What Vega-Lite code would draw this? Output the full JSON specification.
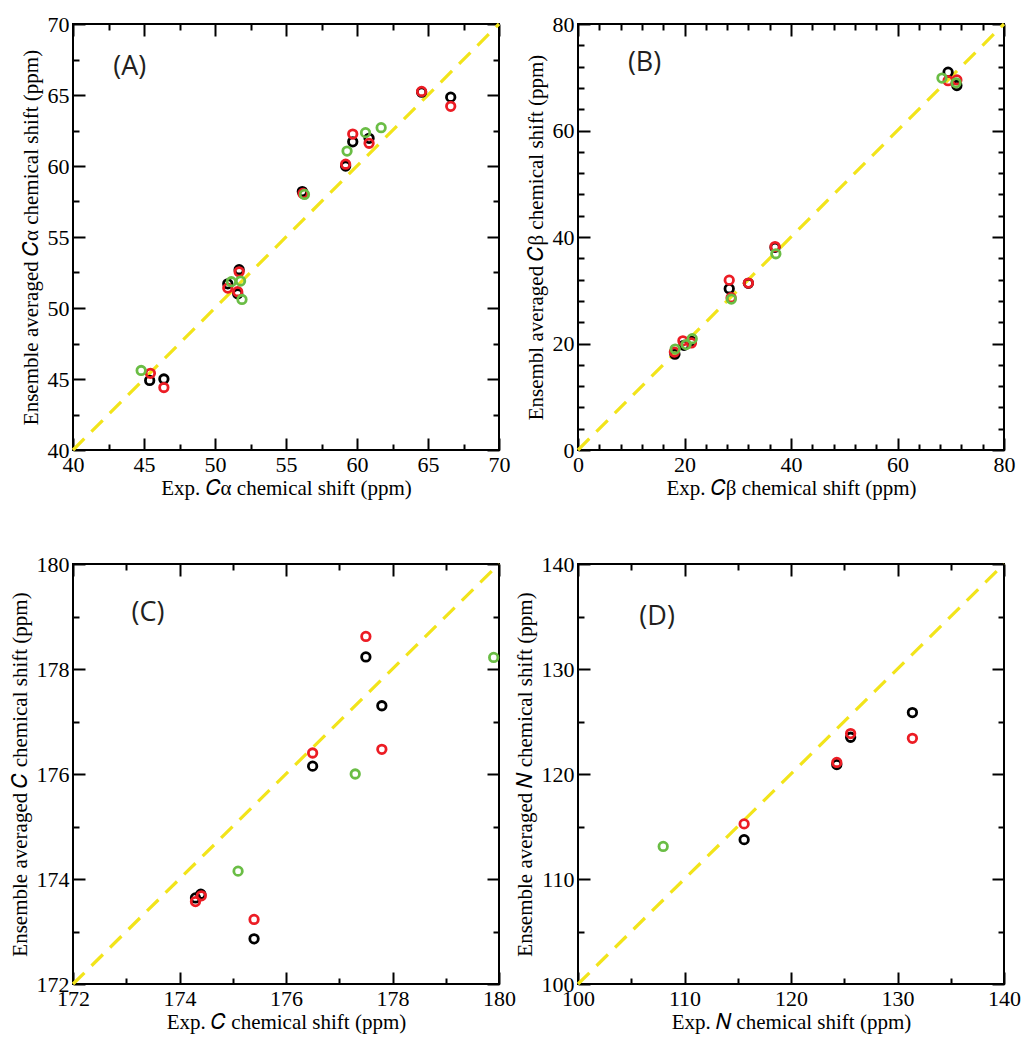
{
  "$schema": "https://vega.github.io/schema/vega-lite/v6.json",
  "background": "white",
  "padding": {"left": 8, "top": 12, "right": 5, "bottom": 5},
  "config": {
    "view": {"stroke": "black", "strokeWidth": 2},
    "axis": {
      "grid": false, "domain": false, "ticks": true, "zindex": 2,
      "labelFont": "Liberation Serif", "labelFontSize": 22, "labelColor": "black",
      "titleFont": "Liberation Serif", "titleFontSize": 21, "titleFontWeight": "normal", "titleColor": "black",
      "tickColor": "#000000", "tickWidth": 2, "tickOpacity": 1,
      "labelFlush": false, "labelOverlap": false, "labelBound": false
    },
    "text": {"font": "Open Sans", "fontSize": 27, "color": "#231f20"},
    "point": {"shape": "circle", "filled": false, "strokeWidth": 2.8, "size": 72, "opacity": 1},
    "rule": {"color": "#f2e41a", "strokeWidth": 3.2, "strokeDash": [16, 10]}
  },
  "columns": 2,
  "spacing": {"column": 79, "row": 114},
  "bounds": "flush",
  "concat": [
    {
      "width": 426, "height": 426,
      "layer": [
        {
          "data": {"values": [{"x1": 40, "y1": 40, "x2": 70, "y2": 70}]},
          "mark": "rule",
          "encoding": {
            "x": {"field": "x1", "type": "quantitative", "scale": {"domain": [40, 70], "nice": false, "zero": false},
              "axis": {"orient": "bottom", "ticks": true, "offset": -12, "tickSize": 12, "values": [40, 45, 50, 55, 60, 65, 70], "labelPadding": 4,
                "title": "Exp. 𝐶α chemical shift (ppm)", "titlePadding": 2}},
            "y": {"field": "y1", "type": "quantitative", "scale": {"domain": [40, 70], "nice": false, "zero": false},
              "axis": {"orient": "left", "ticks": true, "offset": -12, "tickSize": 12, "values": [40, 45, 50, 55, 60, 65, 70], "labelPadding": 4,
                "title": "Ensemble averaged 𝐶α chemical shift (ppm)", "titlePadding": 6}},
            "x2": {"field": "x2"}, "y2": {"field": "y2"}
          }
        },
        {
          "data": {"values": [
            {"exp": 45.4, "avg": 44.9, "series": "S1"}, {"exp": 46.4, "avg": 45.0, "series": "S1"},
            {"exp": 50.9, "avg": 51.7, "series": "S1"}, {"exp": 51.7, "avg": 52.7, "series": "S1"},
            {"exp": 51.6, "avg": 51.0, "series": "S1"}, {"exp": 56.15, "avg": 58.2, "series": "S1"},
            {"exp": 59.2, "avg": 60.0, "series": "S1"}, {"exp": 59.7, "avg": 61.7, "series": "S1"},
            {"exp": 60.85, "avg": 61.95, "series": "S1"}, {"exp": 64.55, "avg": 65.2, "series": "S1"},
            {"exp": 66.6, "avg": 64.85, "series": "S1"},
            {"exp": 45.45, "avg": 45.4, "series": "S2"}, {"exp": 46.4, "avg": 44.4, "series": "S2"},
            {"exp": 50.9, "avg": 51.4, "series": "S2"}, {"exp": 51.7, "avg": 52.55, "series": "S2"},
            {"exp": 51.6, "avg": 51.15, "series": "S2"}, {"exp": 56.2, "avg": 58.07, "series": "S2"},
            {"exp": 59.2, "avg": 60.13, "series": "S2"}, {"exp": 59.7, "avg": 62.25, "series": "S2"},
            {"exp": 60.85, "avg": 61.6, "series": "S2"}, {"exp": 64.55, "avg": 65.25, "series": "S2"},
            {"exp": 66.6, "avg": 64.2, "series": "S2"},
            {"exp": 44.8, "avg": 45.6, "series": "S3"}, {"exp": 51.15, "avg": 51.85, "series": "S3"},
            {"exp": 51.8, "avg": 51.9, "series": "S3"}, {"exp": 51.9, "avg": 50.6, "series": "S3"},
            {"exp": 56.3, "avg": 58.0, "series": "S3"}, {"exp": 59.3, "avg": 61.05, "series": "S3"},
            {"exp": 60.6, "avg": 62.35, "series": "S3"}, {"exp": 61.7, "avg": 62.7, "series": "S3"}
          ]},
          "mark": "point",
          "encoding": {
            "x": {"field": "exp", "type": "quantitative",
              "axis": {"orient": "bottom", "ticks": true, "offset": -6, "tickSize": 6, "values": [42.5, 47.5, 52.5, 57.5, 62.5, 67.5], "labels": false, "title": null}},
            "y": {"field": "avg", "type": "quantitative",
              "axis": {"orient": "left", "ticks": true, "offset": -6, "tickSize": 6, "values": [42.5, 47.5, 52.5, 57.5, 62.5, 67.5], "labels": false, "title": null}},
            "color": {"field": "series", "type": "nominal", "scale": {"domain": ["S1", "S2", "S3"], "range": ["#000000", "#ec1c24", "#6abd45"]}, "legend": null}
          }
        },
        {
          "data": {"values": [{"label": "(A)", "x": 44.0, "y": 66.95}]},
          "mark": "text",
          "encoding": {
            "x": {"field": "x", "type": "quantitative",
              "axis": {"orient": "top", "ticks": true, "offset": -12, "tickSize": 12, "values": [40, 45, 50, 55, 60, 65, 70], "labels": false, "title": null}},
            "y": {"field": "y", "type": "quantitative",
              "axis": {"orient": "right", "ticks": true, "offset": -12, "tickSize": 12, "values": [40, 45, 50, 55, 60, 65, 70], "labels": false, "title": null}},
            "text": {"field": "label"}
          }
        },
        {
          "data": {"values": [{"x": 40, "y": 40}]},
          "mark": {"type": "point", "opacity": 0},
          "encoding": {
            "x": {"field": "x", "type": "quantitative",
              "axis": {"orient": "top", "ticks": true, "offset": -6, "tickSize": 6, "values": [42.5, 47.5, 52.5, 57.5, 62.5, 67.5], "labels": false, "title": null}},
            "y": {"field": "y", "type": "quantitative",
              "axis": {"orient": "right", "ticks": true, "offset": -6, "tickSize": 6, "values": [42.5, 47.5, 52.5, 57.5, 62.5, 67.5], "labels": false, "title": null}}
          }
        }
      ],
      "resolve": {"axis": {"x": "independent", "y": "independent"}}
    },
    {
      "width": 426, "height": 426,
      "layer": [
        {
          "data": {"values": [{"x1": 0, "y1": 0, "x2": 80, "y2": 80}]},
          "mark": "rule",
          "encoding": {
            "x": {"field": "x1", "type": "quantitative", "scale": {"domain": [0, 80], "nice": false},
              "axis": {"orient": "bottom", "ticks": true, "offset": -12, "tickSize": 12, "values": [0, 20, 40, 60, 80], "labelPadding": 4,
                "title": "Exp. 𝐶β chemical shift (ppm)", "titlePadding": 2}},
            "y": {"field": "y1", "type": "quantitative", "scale": {"domain": [0, 80], "nice": false},
              "axis": {"orient": "left", "ticks": true, "offset": -12, "tickSize": 12, "values": [0, 20, 40, 60, 80], "labelPadding": 4,
                "title": "Ensembl averaged 𝐶β chemical shift (ppm)", "titlePadding": 6}},
            "x2": {"field": "x2"}, "y2": {"field": "y2"}
          }
        },
        {
          "data": {"values": [
            {"exp": 18.2, "avg": 18.0, "series": "S1"}, {"exp": 19.9, "avg": 19.65, "series": "S1"},
            {"exp": 21.3, "avg": 20.4, "series": "S1"}, {"exp": 28.4, "avg": 30.3, "series": "S1"},
            {"exp": 32.0, "avg": 31.3, "series": "S1"}, {"exp": 37.0, "avg": 38.05, "series": "S1"},
            {"exp": 69.5, "avg": 70.95, "series": "S1"}, {"exp": 71.15, "avg": 68.45, "series": "S1"},
            {"exp": 18.1, "avg": 18.4, "series": "S2"}, {"exp": 19.7, "avg": 20.5, "series": "S2"},
            {"exp": 21.3, "avg": 20.1, "series": "S2"}, {"exp": 28.4, "avg": 31.9, "series": "S2"},
            {"exp": 28.75, "avg": 28.6, "series": "S2"}, {"exp": 32.0, "avg": 31.35, "series": "S2"},
            {"exp": 37.0, "avg": 38.2, "series": "S2"}, {"exp": 69.5, "avg": 69.35, "series": "S2"},
            {"exp": 71.15, "avg": 69.5, "series": "S2"},
            {"exp": 18.25, "avg": 18.95, "series": "S3"}, {"exp": 20.3, "avg": 19.8, "series": "S3"},
            {"exp": 21.45, "avg": 20.9, "series": "S3"}, {"exp": 28.8, "avg": 28.35, "series": "S3"},
            {"exp": 37.15, "avg": 36.85, "series": "S3"}, {"exp": 68.35, "avg": 69.85, "series": "S3"},
            {"exp": 71.0, "avg": 68.95, "series": "S3"}
          ]},
          "mark": "point",
          "encoding": {
            "x": {"field": "exp", "type": "quantitative",
              "axis": {"orient": "bottom", "ticks": true, "offset": -6, "tickSize": 6, "values": [4, 8, 12, 16, 24, 28, 32, 36, 44, 48, 52, 56, 64, 68, 72, 76], "labels": false, "title": null}},
            "y": {"field": "avg", "type": "quantitative",
              "axis": {"orient": "left", "ticks": true, "offset": -6, "tickSize": 6, "values": [4, 8, 12, 16, 24, 28, 32, 36, 44, 48, 52, 56, 64, 68, 72, 76], "labels": false, "title": null}},
            "color": {"field": "series", "type": "nominal", "scale": {"domain": ["S1", "S2", "S3"], "range": ["#000000", "#ec1c24", "#6abd45"]}, "legend": null}
          }
        },
        {
          "data": {"values": [{"label": "(B)", "x": 12.5, "y": 72.65}]},
          "mark": "text",
          "encoding": {
            "x": {"field": "x", "type": "quantitative",
              "axis": {"orient": "top", "ticks": true, "offset": -12, "tickSize": 12, "values": [0, 20, 40, 60, 80], "labels": false, "title": null}},
            "y": {"field": "y", "type": "quantitative",
              "axis": {"orient": "right", "ticks": true, "offset": -12, "tickSize": 12, "values": [0, 20, 40, 60, 80], "labels": false, "title": null}},
            "text": {"field": "label"}
          }
        },
        {
          "data": {"values": [{"x": 0, "y": 0}]},
          "mark": {"type": "point", "opacity": 0},
          "encoding": {
            "x": {"field": "x", "type": "quantitative",
              "axis": {"orient": "top", "ticks": true, "offset": -6, "tickSize": 6, "values": [4, 8, 12, 16, 24, 28, 32, 36, 44, 48, 52, 56, 64, 68, 72, 76], "labels": false, "title": null}},
            "y": {"field": "y", "type": "quantitative",
              "axis": {"orient": "right", "ticks": true, "offset": -6, "tickSize": 6, "values": [4, 8, 12, 16, 24, 28, 32, 36, 44, 48, 52, 56, 64, 68, 72, 76], "labels": false, "title": null}}
          }
        }
      ],
      "resolve": {"axis": {"x": "independent", "y": "independent"}}
    },
    {
      "width": 426, "height": 420,
      "layer": [
        {
          "data": {"values": [{"x1": 172, "y1": 172, "x2": 180, "y2": 180}]},
          "mark": "rule",
          "encoding": {
            "x": {"field": "x1", "type": "quantitative", "scale": {"domain": [172, 180], "nice": false, "zero": false},
              "axis": {"orient": "bottom", "ticks": true, "offset": -12, "tickSize": 12, "values": [172, 174, 176, 178, 180], "labelPadding": 4,
                "title": "Exp. 𝐶 chemical shift (ppm)", "titlePadding": 2}},
            "y": {"field": "y1", "type": "quantitative", "scale": {"domain": [172, 180], "nice": false, "zero": false},
              "axis": {"orient": "left", "ticks": true, "offset": -12, "tickSize": 12, "values": [172, 174, 176, 178, 180], "labelPadding": 4,
                "title": "Ensemble averaged 𝐶 chemical shift (ppm)", "titlePadding": 6}},
            "x2": {"field": "x2"}, "y2": {"field": "y2"}
          }
        },
        {
          "data": {"values": [
            {"exp": 174.3, "avg": 173.64, "series": "S1"}, {"exp": 174.4, "avg": 173.71, "series": "S1"},
            {"exp": 175.4, "avg": 172.86, "series": "S1"}, {"exp": 176.5, "avg": 176.15, "series": "S1"},
            {"exp": 177.5, "avg": 178.23, "series": "S1"}, {"exp": 177.8, "avg": 177.3, "series": "S1"},
            {"exp": 174.3, "avg": 173.57, "series": "S2"}, {"exp": 174.41, "avg": 173.68, "series": "S2"},
            {"exp": 175.4, "avg": 173.23, "series": "S2"}, {"exp": 176.5, "avg": 176.4, "series": "S2"},
            {"exp": 177.5, "avg": 178.62, "series": "S2"}, {"exp": 177.8, "avg": 176.47, "series": "S2"},
            {"exp": 175.1, "avg": 174.15, "series": "S3"}, {"exp": 177.3, "avg": 176.0, "series": "S3"},
            {"exp": 179.9, "avg": 178.22, "series": "S3"}
          ]},
          "mark": "point",
          "encoding": {
            "x": {"field": "exp", "type": "quantitative",
              "axis": {"orient": "bottom", "ticks": true, "offset": -6, "tickSize": 6, "values": [173, 175, 177, 179], "labels": false, "title": null}},
            "y": {"field": "avg", "type": "quantitative",
              "axis": {"orient": "left", "ticks": true, "offset": -6, "tickSize": 6, "values": [173, 175, 177, 179], "labels": false, "title": null}},
            "color": {"field": "series", "type": "nominal", "scale": {"domain": ["S1", "S2", "S3"], "range": ["#000000", "#ec1c24", "#6abd45"]}, "legend": null}
          }
        },
        {
          "data": {"values": [{"label": "(C)", "x": 173.41, "y": 179.07}]},
          "mark": "text",
          "encoding": {
            "x": {"field": "x", "type": "quantitative",
              "axis": {"orient": "top", "ticks": true, "offset": -12, "tickSize": 12, "values": [172, 174, 176, 178, 180], "labels": false, "title": null}},
            "y": {"field": "y", "type": "quantitative",
              "axis": {"orient": "right", "ticks": true, "offset": -12, "tickSize": 12, "values": [172, 174, 176, 178, 180], "labels": false, "title": null}},
            "text": {"field": "label"}
          }
        },
        {
          "data": {"values": [{"x": 172, "y": 172}]},
          "mark": {"type": "point", "opacity": 0},
          "encoding": {
            "x": {"field": "x", "type": "quantitative",
              "axis": {"orient": "top", "ticks": true, "offset": -6, "tickSize": 6, "values": [173, 175, 177, 179], "labels": false, "title": null}},
            "y": {"field": "y", "type": "quantitative",
              "axis": {"orient": "right", "ticks": true, "offset": -6, "tickSize": 6, "values": [173, 175, 177, 179], "labels": false, "title": null}}
          }
        }
      ],
      "resolve": {"axis": {"x": "independent", "y": "independent"}}
    },
    {
      "width": 426, "height": 420,
      "layer": [
        {
          "data": {"values": [{"x1": 100, "y1": 100, "x2": 140, "y2": 140}]},
          "mark": "rule",
          "encoding": {
            "x": {"field": "x1", "type": "quantitative", "scale": {"domain": [100, 140], "nice": false, "zero": false},
              "axis": {"orient": "bottom", "ticks": true, "offset": -12, "tickSize": 12, "values": [100, 110, 120, 130, 140], "labelPadding": 4,
                "title": "Exp. 𝑁 chemical shift (ppm)", "titlePadding": 2}},
            "y": {"field": "y1", "type": "quantitative", "scale": {"domain": [100, 140], "nice": false, "zero": false},
              "axis": {"orient": "left", "ticks": true, "offset": -12, "tickSize": 12, "values": [100, 110, 120, 130, 140], "labelPadding": 4,
                "title": "Ensemble averaged 𝑁 chemical shift (ppm)", "titlePadding": 6}},
            "x2": {"field": "x2"}, "y2": {"field": "y2"}
          }
        },
        {
          "data": {"values": [
            {"exp": 115.6, "avg": 113.75, "series": "S1"}, {"exp": 124.3, "avg": 120.9, "series": "S1"},
            {"exp": 125.6, "avg": 123.5, "series": "S1"}, {"exp": 131.4, "avg": 125.85, "series": "S1"},
            {"exp": 115.6, "avg": 115.25, "series": "S2"}, {"exp": 124.3, "avg": 121.1, "series": "S2"},
            {"exp": 125.6, "avg": 123.85, "series": "S2"}, {"exp": 131.4, "avg": 123.4, "series": "S2"},
            {"exp": 108.0, "avg": 113.1, "series": "S3"}
          ]},
          "mark": "point",
          "encoding": {
            "x": {"field": "exp", "type": "quantitative",
              "axis": {"orient": "bottom", "ticks": true, "offset": -6, "tickSize": 6, "values": [105, 115, 125, 135], "labels": false, "title": null}},
            "y": {"field": "avg", "type": "quantitative",
              "axis": {"orient": "left", "ticks": true, "offset": -6, "tickSize": 6, "values": [105, 115, 125, 135], "labels": false, "title": null}},
            "color": {"field": "series", "type": "nominal", "scale": {"domain": ["S1", "S2", "S3"], "range": ["#000000", "#ec1c24", "#6abd45"]}, "legend": null}
          }
        },
        {
          "data": {"values": [{"label": "(D)", "x": 107.43, "y": 134.95}]},
          "mark": "text",
          "encoding": {
            "x": {"field": "x", "type": "quantitative",
              "axis": {"orient": "top", "ticks": true, "offset": -12, "tickSize": 12, "values": [100, 110, 120, 130, 140], "labels": false, "title": null}},
            "y": {"field": "y", "type": "quantitative",
              "axis": {"orient": "right", "ticks": true, "offset": -12, "tickSize": 12, "values": [100, 110, 120, 130, 140], "labels": false, "title": null}},
            "text": {"field": "label"}
          }
        },
        {
          "data": {"values": [{"x": 100, "y": 100}]},
          "mark": {"type": "point", "opacity": 0},
          "encoding": {
            "x": {"field": "x", "type": "quantitative",
              "axis": {"orient": "top", "ticks": true, "offset": -6, "tickSize": 6, "values": [105, 115, 125, 135], "labels": false, "title": null}},
            "y": {"field": "y", "type": "quantitative",
              "axis": {"orient": "right", "ticks": true, "offset": -6, "tickSize": 6, "values": [105, 115, 125, 135], "labels": false, "title": null}}
          }
        }
      ],
      "resolve": {"axis": {"x": "independent", "y": "independent"}}
    }
  ]
}
